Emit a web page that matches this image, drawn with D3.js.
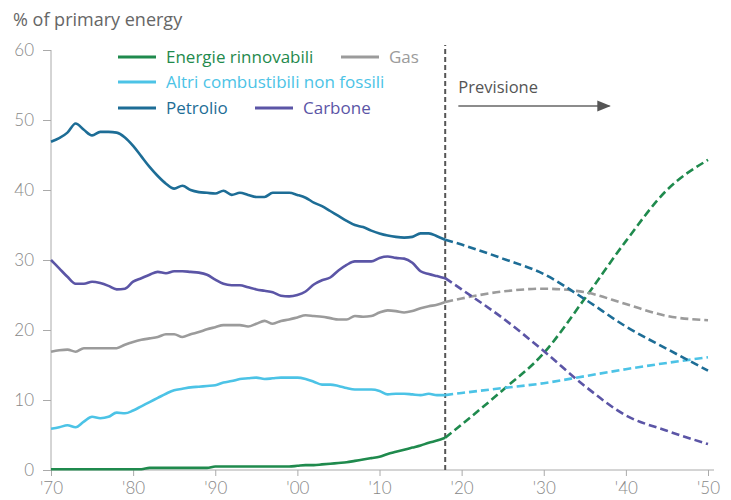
<!DOCTYPE html>
<html>
<head>
<meta charset="utf-8">
<script src="https://cdn.jsdelivr.net/npm/d3@7"></script>
<style>
  html, body { margin: 0; padding: 0; background: #fff; }
  svg { display: block; font-family: "Open Sans", "Noto Sans", sans-serif; }
</style>
</head>
<body>
<svg id="chart" width="731" height="500"></svg>
<script>
// Share of primary energy by source, history 1970-2018 and outlook to 2050
const histYears = d3.range(1970, 2019);
const forecastYears = [2018, 2020, 2025, 2030, 2035, 2040, 2045, 2050];

const renewablesHist = [0.1,0.1,0.1,0.1,0.1,0.1,0.1,0.1,0.1,0.1,0.1,0.1,0.3,0.3,0.3,0.3,0.3,0.3,0.3,0.3,
  0.5,0.5,0.5,0.5,0.5,0.5,0.5,0.5,0.5,0.5,0.6,0.7,0.7,0.8,0.9,1.0,1.1,1.3,1.5,1.7,1.9,2.3,2.6,2.9,3.2,3.5,3.9,4.2,4.6];
const gasHist = [16.9,17.1,17.2,16.9,17.4,17.4,17.4,17.4,17.4,17.9,18.3,18.6,18.8,19.0,19.4,19.4,19.0,19.4,19.7,20.1,
  20.4,20.7,20.7,20.7,20.5,20.9,21.3,20.9,21.3,21.5,21.8,22.1,22.0,21.9,21.7,21.5,21.5,22.0,21.9,22.0,22.5,22.8,22.7,22.5,22.7,23.1,23.4,23.6,24.0];
const otherNonFossilHist = [5.9,6.1,6.4,6.1,6.9,7.6,7.4,7.6,8.2,8.1,8.5,9.1,9.7,10.3,10.9,11.4,11.6,11.8,11.9,12.0,
  12.1,12.5,12.7,13.0,13.1,13.2,13.0,13.1,13.2,13.2,13.2,13.0,12.6,12.2,12.2,12.0,11.7,11.5,11.5,11.5,11.3,10.8,10.9,10.9,10.8,10.7,10.9,10.7,10.7];
const oilHist = [46.9,47.4,48.2,49.5,48.6,47.8,48.3,48.3,48.2,47.5,46.3,44.8,43.3,42.0,40.9,40.2,40.6,40.0,39.7,39.6,
  39.5,39.9,39.3,39.6,39.3,39.0,39.0,39.6,39.6,39.6,39.3,38.9,38.2,37.7,37.0,36.3,35.6,35.0,34.7,34.2,33.8,33.5,33.3,33.2,33.3,33.8,33.8,33.4,32.9];
const coalHist = [30.0,28.8,27.6,26.6,26.6,26.9,26.7,26.3,25.8,25.9,26.9,27.4,27.9,28.3,28.1,28.4,28.4,28.3,28.2,27.9,
  27.2,26.6,26.4,26.4,26.1,25.8,25.6,25.4,24.9,24.8,25.0,25.5,26.5,27.1,27.5,28.5,29.3,29.8,29.8,29.8,30.3,30.5,30.3,30.2,29.6,28.4,28.0,27.7,27.4];

const renewablesFc = [4.6, 6.5, 11.4, 16.7, 24.5, 32.7, 40.0, 44.3];
const gasFc = [24.0, 24.5, 25.5, 25.9, 25.4, 23.7, 22.0, 21.4];
const otherNonFossilFc = [10.7, 11.0, 11.7, 12.4, 13.4, 14.4, 15.3, 16.1];
const oilFc = [32.9, 32.2, 30.2, 28.0, 24.4, 20.5, 17.3, 14.2];
const coalFc = [27.4, 25.8, 21.7, 17.0, 12.0, 7.8, 5.6, 3.7];

const yTicks = [0, 10, 20, 30, 40, 50, 60];
const xTicks = [1970, 1980, 1990, 2000, 2010, 2020, 2030, 2040, 2050];
const xTickLabels = ["'70", "'80", "'90", "'00", "'10", "'20", "'30", "'40", "'50"];
const forecastStart = 2018;

const series = [
  { name: "Energie rinnovabili", color: "#1f8a4d", hist: renewablesHist, fc: renewablesFc },
  { name: "Gas", color: "#9b9b9b", hist: gasHist, fc: gasFc },
  { name: "Altri combustibili non fossili", color: "#4cc3e6", hist: otherNonFossilHist, fc: otherNonFossilFc },
  { name: "Petrolio", color: "#1d6d96", hist: oilHist, fc: oilFc },
  { name: "Carbone", color: "#5b55a6", hist: coalHist, fc: coalFc }
];

const svg = d3.select("#chart");
const x = d3.scaleLinear().domain([1970, 2050]).range([51, 708]);
const y = d3.scaleLinear().domain([0, 60]).range([470, 50]);
const tickFont = "Lato, 'Noto Sans', sans-serif";

// unit label
svg.append("text").attr("x", 13).attr("y", 26)
  .attr("fill", "#666").attr("font-size", 18).text("% of primary energy");

// y axis
const yAxis = svg.append("g").attr("transform", `translate(${x(1970)},0)`)
  .call(d3.axisLeft(y).tickValues(yTicks).tickSize(8).tickPadding(9).tickFormat(d3.format("d")));
yAxis.select(".domain").attr("stroke", "#aaa").attr("d", `M0,${y(0)}V${y(60)}`);
yAxis.selectAll(".tick line").attr("stroke", "#aaa");
yAxis.selectAll(".tick text").attr("fill", "#888").attr("font-size", 17)
  .attr("font-weight", 300).attr("font-family", tickFont);

// x axis
const xAxis = svg.append("g").attr("transform", `translate(0,${y(0)})`)
  .call(d3.axisBottom(x).tickValues(xTicks).tickSize(6).tickPadding(6)
    .tickFormat((d, i) => xTickLabels[i]));
xAxis.select(".domain").attr("stroke", "#aaa").attr("d", `M${x(1970)},0H${x(2050) + 6}`);
xAxis.selectAll(".tick line").attr("stroke", "#aaa");
xAxis.selectAll(".tick text").attr("fill", "#888").attr("font-size", 17)
  .attr("font-weight", 300).attr("font-family", tickFont);

// forecast divider
svg.append("line")
  .attr("x1", x(forecastStart)).attr("x2", x(forecastStart))
  .attr("y1", y(0)).attr("y2", y(60) - 5)
  .attr("stroke", "#555").attr("stroke-width", 2).attr("stroke-dasharray", "5,3");

// forecast annotation
svg.append("text").attr("x", x(2019.6)).attr("y", 93)
  .attr("fill", "#555").attr("font-size", 16.5).text("Previsione");
svg.append("defs").append("marker")
  .attr("id", "arrow").attr("viewBox", "0 0 10 10").attr("refX", 9).attr("refY", 5)
  .attr("markerWidth", 9).attr("markerHeight", 9).attr("orient", "auto")
  .append("path").attr("d", "M0,1L10,5L0,9Z").attr("fill", "#555");
svg.append("line")
  .attr("x1", x(2019.6)).attr("x2", x(2038)).attr("y1", 106).attr("y2", 106)
  .attr("stroke", "#666").attr("stroke-width", 1.5).attr("marker-end", "url(#arrow)");

const histLine = d3.line().x((d, i) => x(histYears[i])).y(d => y(d)).curve(d3.curveMonotoneX);
const fcLine = d3.line().x((d, i) => x(forecastYears[i])).y(d => y(d)).curve(d3.curveMonotoneX);

// forecast dashed lines first, history on top
series.forEach(s => {
  svg.append("path").datum(s.fc)
    .attr("fill", "none").attr("stroke", s.color).attr("stroke-width", 2.6)
    .attr("stroke-dasharray", "8,4").attr("d", fcLine);
});
series.forEach(s => {
  svg.append("path").datum(s.hist)
    .attr("fill", "none").attr("stroke", s.color).attr("stroke-width", 2.6)
    .attr("stroke-linejoin", "round").attr("d", histLine);
});

// legend
const legendItems = [
  { s: series[0], lx: 118, ly: 57 },
  { s: series[1], lx: 341, ly: 57 },
  { s: series[2], lx: 118, ly: 82 },
  { s: series[3], lx: 118, ly: 108 },
  { s: series[4], lx: 255, ly: 108 }
];
legendItems.forEach(({ s, lx, ly }) => {
  svg.append("line").attr("x1", lx).attr("x2", lx + 38).attr("y1", ly).attr("y2", ly)
    .attr("stroke", s.color).attr("stroke-width", 3);
  svg.append("text").attr("x", lx + 48).attr("y", ly + 6)
    .attr("fill", s.color).attr("font-size", 17).text(s.name);
});
</script>
</body>
</html>
